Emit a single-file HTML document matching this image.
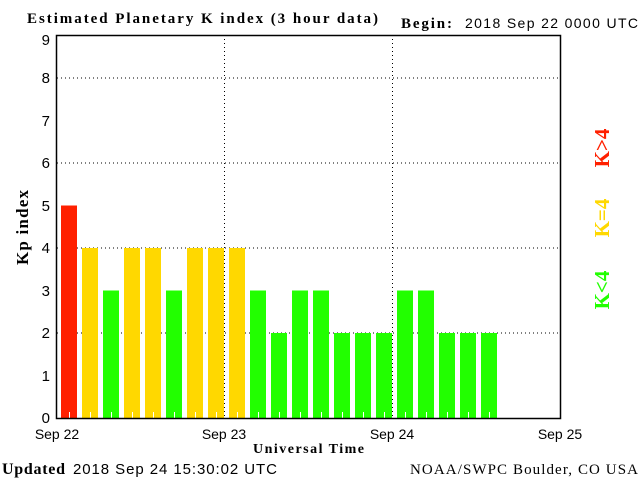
<!DOCTYPE html>
<html><head><style>
body{margin:0;background:#fff;width:640px;height:480px;overflow:hidden}
</style></head><body>
<svg width="640" height="480" xmlns="http://www.w3.org/2000/svg" font-family="Liberation Sans, sans-serif">
<rect width="640" height="480" fill="#fff"/>
<text x="27" y="23" font-family="Liberation Serif, serif" font-weight="bold" font-size="15" textLength="351" lengthAdjust="spacing">Estimated Planetary K index (3 hour data)</text>
<text x="401" y="28" font-family="Liberation Serif, serif" font-weight="bold" font-size="15" textLength="51" lengthAdjust="spacing">Begin:</text>
<text x="465" y="28" font-size="14" textLength="173" lengthAdjust="spacing">2018 Sep 22 0000 UTC</text>
<g stroke="#000" stroke-width="1" stroke-dasharray="1,3">
<line x1="57" y1="78" x2="560" y2="78"/><line x1="57" y1="163" x2="560" y2="163"/>
<line x1="57" y1="248" x2="560" y2="248"/><line x1="57" y1="333" x2="560" y2="333"/>
<line x1="224.5" y1="35" x2="224.5" y2="418"/><line x1="392.5" y1="35" x2="392.5" y2="418"/>
</g>
<g id="bars"></g>
<rect x="56.5" y="35.5" width="504" height="383" fill="none" stroke="#000" stroke-width="1.5"/>
<g font-size="15" text-anchor="end">
<text x="50" y="423">0</text><text x="50" y="381">1</text><text x="50" y="338">2</text><text x="50" y="296">3</text><text x="50" y="253">4</text><text x="50" y="211">5</text><text x="50" y="168">6</text><text x="50" y="126">7</text><text x="50" y="83">8</text><text x="50" y="45">9</text>
</g>
<g font-size="14" text-anchor="middle">
<text x="57" y="439">Sep 22</text><text x="224" y="439">Sep 23</text><text x="392" y="439">Sep 24</text><text x="560" y="439">Sep 25</text>
</g>
<text x="253" y="453" font-family="Liberation Serif, serif" font-weight="bold" font-size="14" textLength="111" lengthAdjust="spacing">Universal Time</text>
<text transform="translate(28,265) rotate(-90)" font-family="Liberation Serif, serif" font-weight="bold" font-size="17" textLength="75" lengthAdjust="spacing">Kp index</text>
<g font-family="Liberation Serif, serif" font-weight="bold" font-size="21" text-anchor="middle">
<text transform="translate(609,148) rotate(-90)" fill="#ff2000">K&gt;4</text>
<text transform="translate(609,218) rotate(-90)" fill="#ffd800">K=4</text>
<text transform="translate(609,290) rotate(-90)" fill="#22ff00">K&lt;4</text>
</g>
<text x="2" y="474" font-family="Liberation Serif, serif" font-weight="bold" font-size="16" textLength="63" lengthAdjust="spacing">Updated</text>
<text x="73" y="474" font-size="15" textLength="204" lengthAdjust="spacing">2018 Sep 24 15:30:02 UTC</text>
<text x="410" y="474" font-family="Liberation Serif, serif" font-size="15" textLength="228" lengthAdjust="spacing">NOAA/SWPC Boulder, CO USA</text>
</svg>
<script>
var v=[5,4,3,4,4,3,4,4,4,3,2,3,3,2,2,2,3,3,2,2,2],g=document.getElementById('bars'),s='';
v.forEach(function(k,i){var x=61+21*i,h=42.5*k,c=k>4?'#ff2000':k==4?'#ffd800':'#22ff00';
s+='<rect x="'+x+'" y="'+(418-h)+'" width="16" height="'+h+'" fill="'+c+'"/>';
s+='<line x1="'+(x+8.5)+'" y1="412" x2="'+(x+8.5)+'" y2="418" stroke="#fff"/>';});
g.innerHTML=s;
</script>
</body></html>
